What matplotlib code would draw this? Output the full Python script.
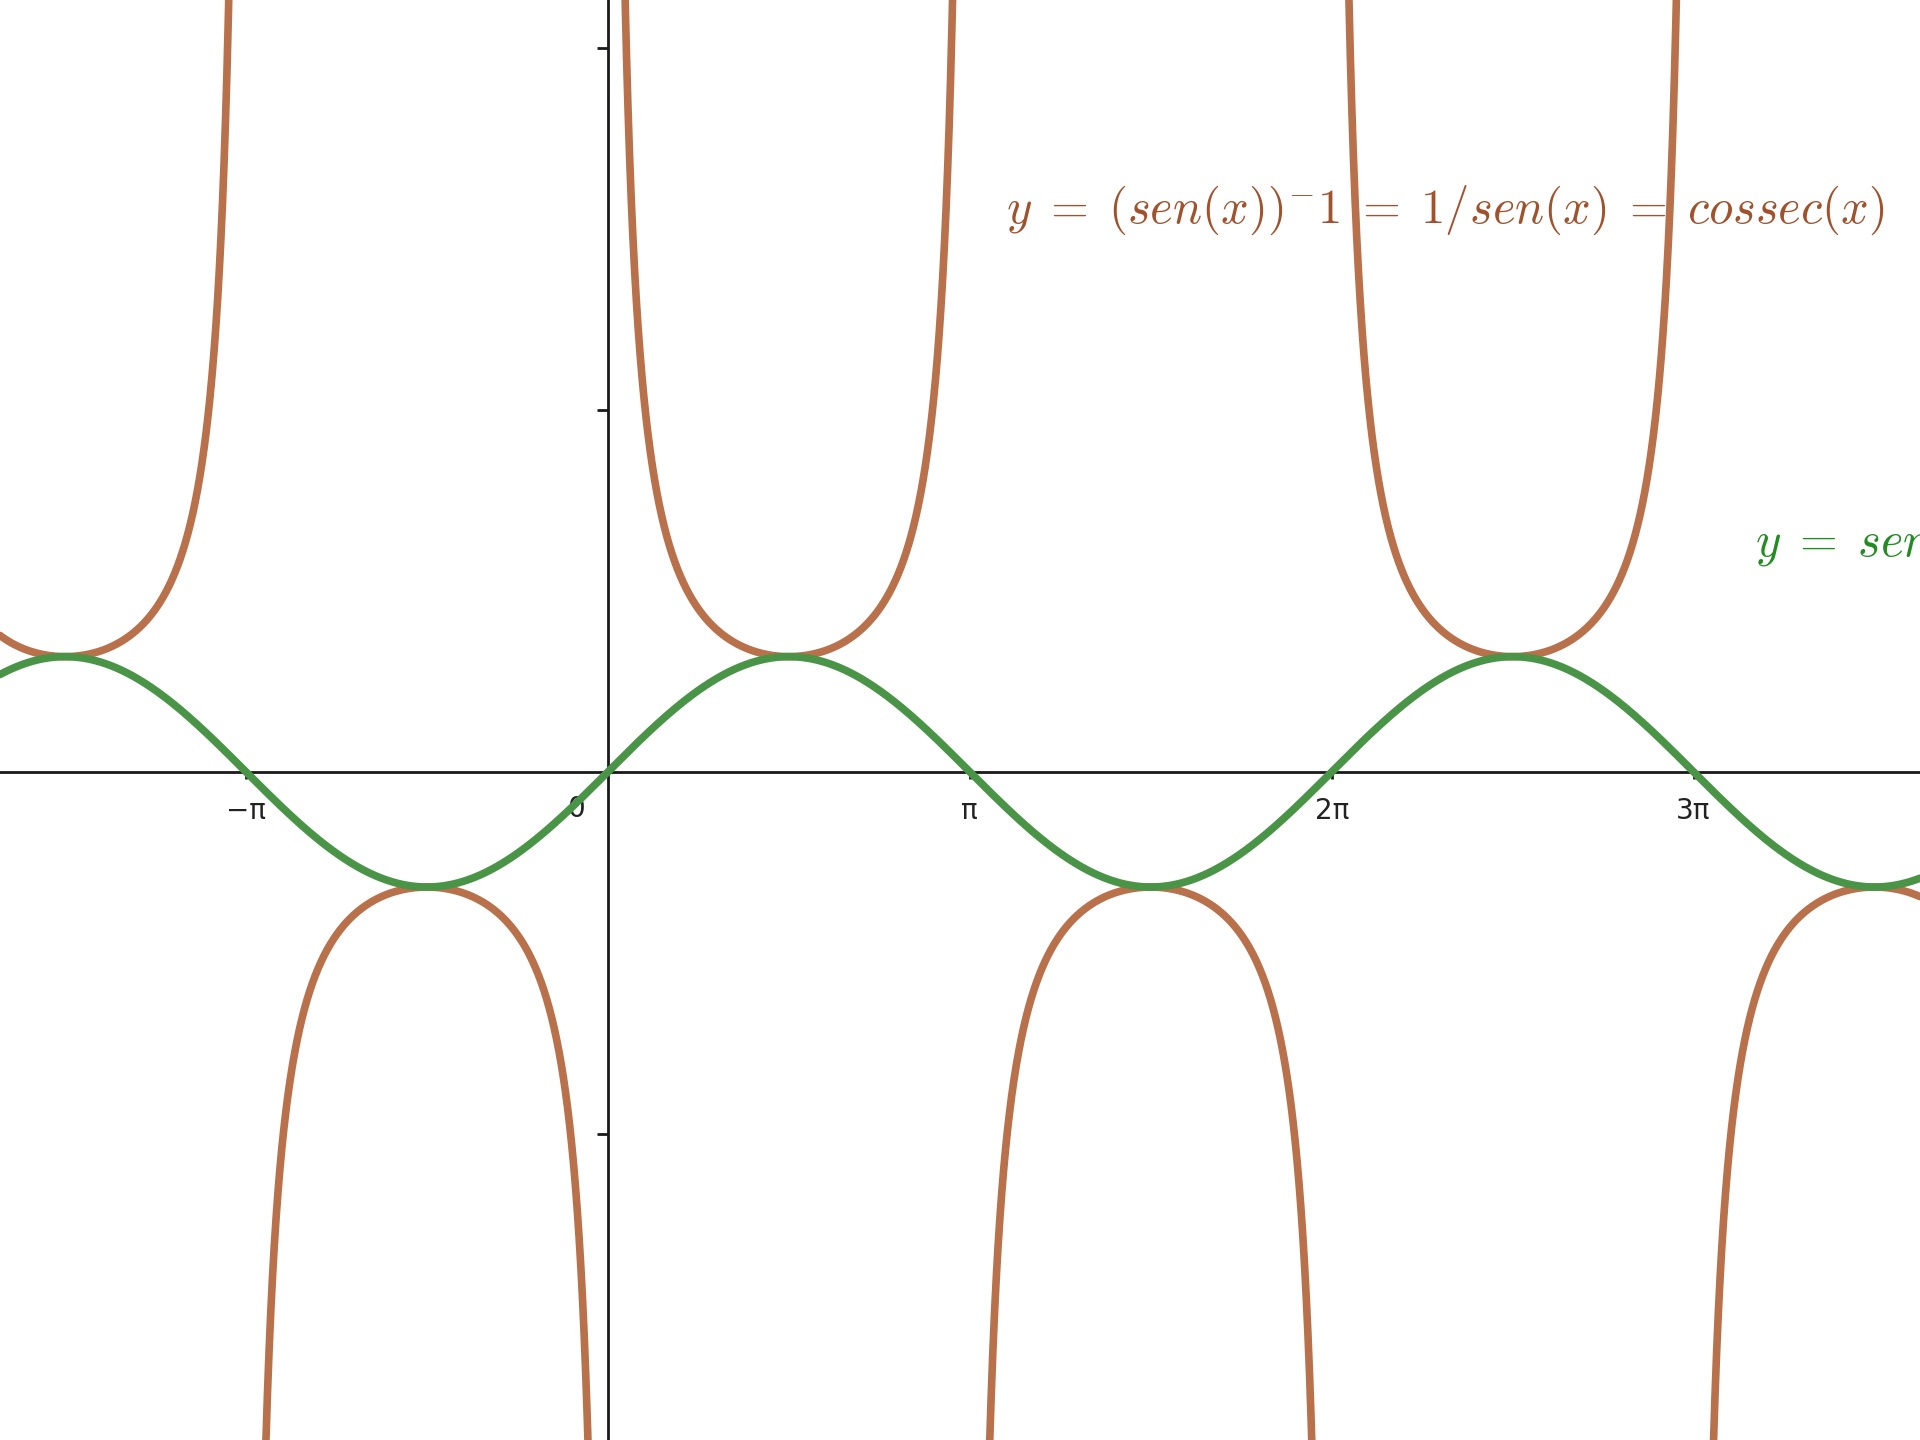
import numpy as np
import matplotlib.pyplot as plt

# viewing window (units of x and y)
X_MIN, X_MAX = -5.277, 11.39
Y_MIN, Y_MAX = -5.80, 6.70

X_TICKS = [-np.pi, np.pi, 2 * np.pi, 3 * np.pi]
X_TICK_LABELS = ["−π", "π", "2π", "3π"]
Y_TICKS = [-np.pi, np.pi, 2 * np.pi]

COSEC_COLOR = "#b8714a"
COSEC_TEXT_COLOR = "#a0522d"
SIN_COLOR = "#4a9447"
SIN_TEXT_COLOR = "#228b22"

EQ = r"\;=\;"
COSEC_LABEL = rf"$y{EQ}(sen(x))^{{-}}1{EQ}1/sen(x){EQ}cossec(x)$"
SIN_LABEL = rf"$y{EQ}sen(x)$"

plt.rcParams["mathtext.fontset"] = "cm"

x = np.linspace(X_MIN, X_MAX, 20001)
y_sin = np.sin(x)
y_csc = 1.0 / y_sin
y_csc[np.abs(y_csc) > 40] = np.nan

fig = plt.figure(figsize=(19.2, 14.4), dpi=100)
ax = fig.add_axes([0, 0, 1, 1])
ax.set_xlim(X_MIN, X_MAX)
ax.set_ylim(Y_MIN, Y_MAX)

ax.plot(x, y_csc, color=COSEC_COLOR, linewidth=5.5, solid_capstyle="round", zorder=3)
ax.plot(x, y_sin, color=SIN_COLOR, linewidth=5.5, solid_capstyle="round", zorder=4)

# axes through the origin
for side in ("top", "right"):
    ax.spines[side].set_visible(False)
ax.spines["left"].set_position(("data", 0))
ax.spines["bottom"].set_position(("data", 0))
for side in ("left", "bottom"):
    ax.spines[side].set_linewidth(2)
    ax.spines[side].set_color("#1a1a1a")
    ax.spines[side].set_zorder(2)

ax.set_xticks(X_TICKS)
ax.set_xticklabels(X_TICK_LABELS)
ax.set_yticks(Y_TICKS)
ax.set_yticklabels([])
ax.tick_params(axis="x", direction="out", length=5, width=2, color="#1a1a1a",
               labelsize=20, labelcolor="#222222", pad=13)
ax.tick_params(axis="y", direction="out", length=8, width=2, color="#1a1a1a")
ax.text(-0.2, -0.2, "0", ha="right", va="top", fontsize=20, color="#222222")

ax.text(3.46, 4.87, COSEC_LABEL, color=COSEC_TEXT_COLOR, fontsize=35,
        ha="left", va="center")
ax.text(9.96, 1.98, SIN_LABEL, color=SIN_TEXT_COLOR, fontsize=35,
        ha="left", va="center")

fig.savefig("out.png", dpi=100)
